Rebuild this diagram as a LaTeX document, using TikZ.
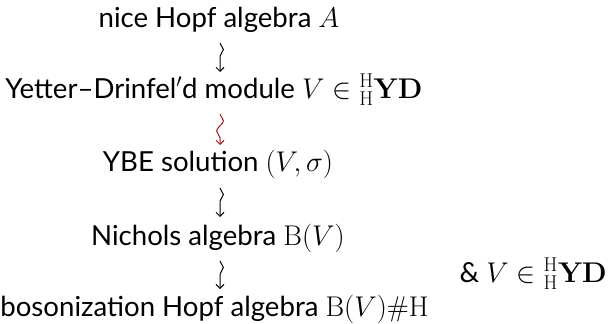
\RequirePackage{fix-cm}
\documentclass[tikz,border=0pt]{standalone}
\usepackage[no-math]{fontspec}
\setmainfont{Lato}
\usetikzlibrary{decorations.pathmorphing,calc,arrows.meta}
\definecolor{squigred}{HTML}{A8141C}
\newcommand{\mth}[1]{{\fontsize{28.5bp}{32bp}\selectfont$#1$}}
\newcommand{\hyd}{{}^{\mathrm{H}}_{\mathrm{H}}\mathbf{YD}}
\begin{document}
\begin{tikzpicture}[x=1bp,y=1bp,
  lbl/.style={inner sep=0pt, anchor=base, font=\fontsize{27.6bp}{32bp}\selectfont},
  squig/.style={-{Straight Barb[length=4bp,width=8bp]}, line width=1bp, decorate,
    decoration={snake, amplitude=3.4bp, segment length=21bp, post length=7bp}},
]
\useasboundingbox (0,0) rectangle (608,323);
\coordinate (col) at (220,0);
\node[lbl] (a) at (219,296) {nice Hopf algebra \mth{A}};
\node[lbl] (b) at (214,225) {Yetter–Drinfel$'$d module \mth{V\in\hyd}};
\node[lbl] (c) at (218,152) {YBE solution \mth{(V,\sigma)}};
\node[lbl] (d) at (218,78) {Nichols algebra \mth{\mathrm{B}(V)}};
\node[lbl] (e) at (214.5,7) {bosonization Hopf algebra \mth{\mathrm{B}(V)\#\mathrm{H}}};
\node[lbl, anchor=base east] (f) at (607,41) {\& \mth{V\in\hyd}};
\draw[squig] ($(col |- a.base)+(0,-16)$) -- ($(col |- b.base)+(0,26)$);
\draw[squig, squigred] ($(col |- b.base)+(0,-16)$) -- ($(col |- c.base)+(0,26)$);
\draw[squig] ($(col |- c.base)+(0,-17)$) -- ($(col |- d.base)+(0,28)$);
\draw[squig] ($(col |- d.base)+(0,-16)$) -- ($(col |- e.base)+(0,27)$);
\end{tikzpicture}
\end{document}
